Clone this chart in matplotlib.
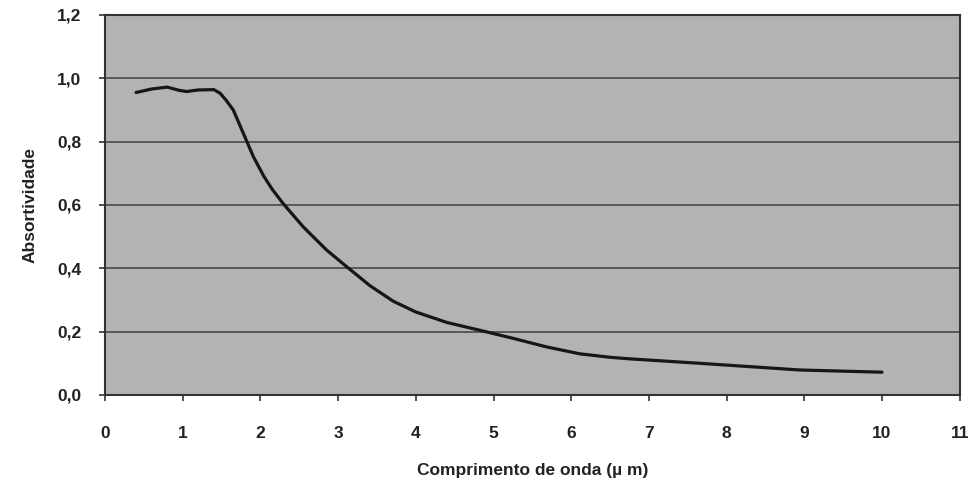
import numpy as np
import matplotlib as mpl

mpl.use('Agg')
import matplotlib.pyplot as plt

# comprimento de onda (um) e absortividade
wavelength = [0.4, 0.6, 0.8, 0.95, 1.05, 1.2, 1.4, 1.48, 1.56, 1.65, 1.78,
              1.91, 2.04, 2.15, 2.29, 2.55, 2.85, 3.11, 3.41, 3.71, 4.0,
              4.4, 4.83, 5.25, 5.68, 6.11, 6.5, 6.76, 7.66, 8.94, 10.0]
absorptivity = [0.955, 0.966, 0.972, 0.962, 0.958, 0.963, 0.964, 0.953,
                0.93, 0.90, 0.826, 0.752, 0.692, 0.650, 0.605, 0.531,
                0.458, 0.405, 0.345, 0.296, 0.262, 0.229, 0.204, 0.179,
                0.152, 0.130, 0.119, 0.114, 0.100, 0.079, 0.072]
x_ticks = list(range(0, 12))
y_ticks = [0.0, 0.2, 0.4, 0.6, 0.8, 1.0, 1.2]
y_labels = ['0,0', '0,2', '0,4', '0,6', '0,8', '1,0', '1,2']

plt.rcParams['font.family'] = ['Liberation Sans', 'DejaVu Sans']

fig = plt.figure(figsize=(9.69, 4.83), dpi=100)
ax = fig.add_axes([0.1084, 0.1822, 0.882, 0.787])
ax.set_facecolor('#b3b3b3')

for y in y_ticks[1:-1]:
    ax.axhline(y, color='#404040', lw=1.1, zorder=1)

ax.plot(wavelength, absorptivity, color='#161616', lw=2.3, zorder=3,
        solid_joinstyle='round', solid_capstyle='round')

ax.set_xlim(0, 11)
ax.set_ylim(0, 1.2)
ax.set_xticks(x_ticks)
ax.set_yticks(y_ticks)
ax.set_yticklabels(y_labels)
ax.tick_params(axis='both', direction='out', length=4, width=1.1,
               labelsize=12.5, colors='#222222')
ax.tick_params(axis='x', pad=18)
ax.tick_params(axis='y', pad=13)
for lab in ax.get_xticklabels() + ax.get_yticklabels():
    lab.set_fontweight('bold')

for s in ax.spines.values():
    s.set_color('#333333')
    s.set_linewidth(1.5)

ax.set_ylabel('Absortividade', fontsize=12.5, fontweight='bold',
              color='#222222', labelpad=14)
ax.set_xlabel('Comprimento de onda (\u00b5 m)', fontsize=12.5,
              fontweight='bold', color='#222222', labelpad=16)

plt.savefig('out.png', dpi=100)
